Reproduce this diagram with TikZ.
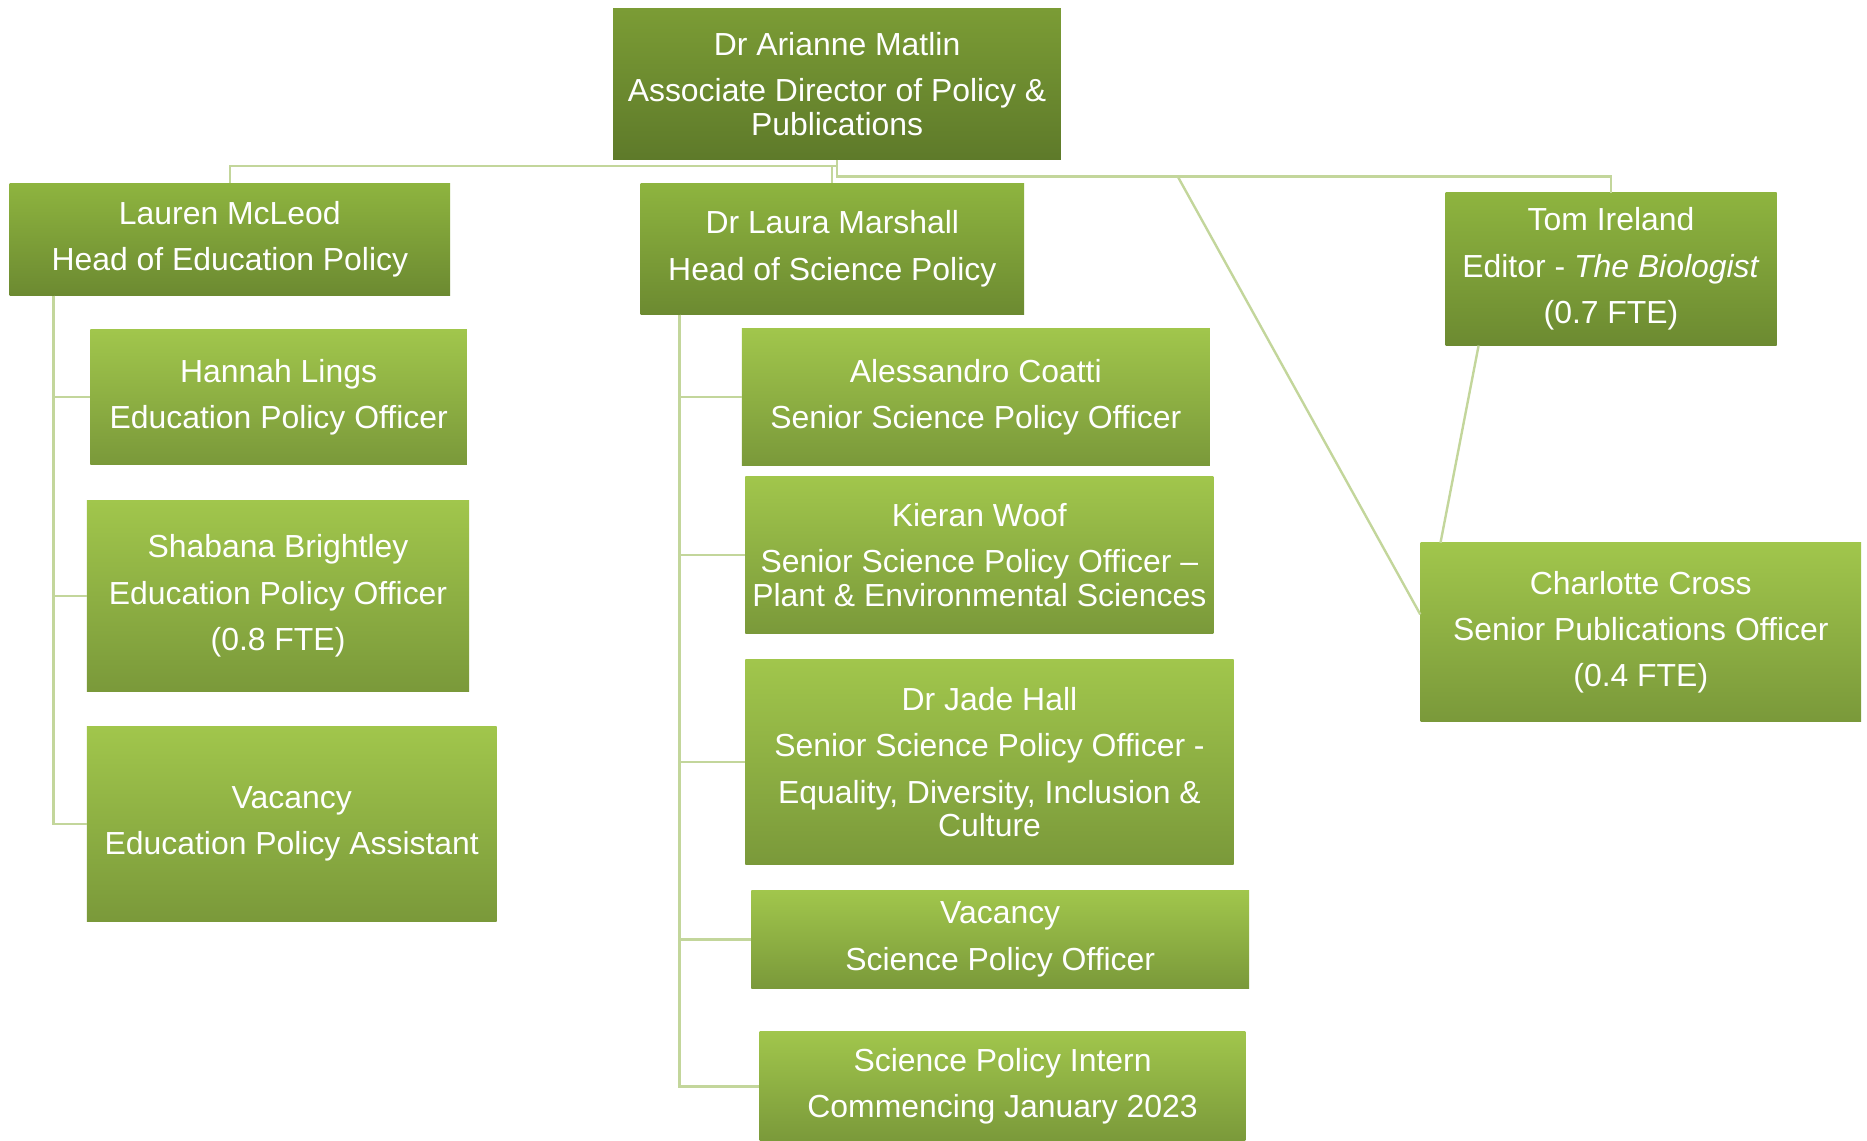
\documentclass[tikz,border=0pt]{standalone}
\usepackage{fontspec}
\setmainfont{Liberation Sans}
\usepackage{xcolor}
\usepackage{tikz}
\usetikzlibrary{positioning, calc}
\definecolor{directortop}{HTML}{7B9C35}
\definecolor{directorbot}{HTML}{5E7A2A}
\definecolor{leadtop}{HTML}{8EB43F}
\definecolor{leadbot}{HTML}{6C8A31}
\definecolor{stafftop}{HTML}{A1C64C}
\definecolor{staffbot}{HTML}{7A993A}
\definecolor{linkgreen}{HTML}{C3D69B}
\newcommand{\orgfont}{\fontsize{26.8}{28}\selectfont}
\tikzset{
  member/.style={rectangle, inner sep=0pt, text=white, align=center, font=\orgfont,
    execute at begin node={\rule{0pt}{29pt}}},
  directorbox/.style={member, top color=directortop, bottom color=directorbot},
  leadbox/.style={member, top color=leadtop, bottom color=leadbot},
  staffbox/.style={member, top color=stafftop, bottom color=staffbot},
  link/.style={draw=linkgreen, line width=2pt}
}

\begin{document}
\begin{tikzpicture}[x=1pt, y=-1pt]
  \fill[white] (0,0) rectangle (1568,958);
  \useasboundingbox (0,0) rectangle (1568,958);

  % Director
  \node[directorbox, minimum width=376pt, minimum height=127pt] (director) at (703,70.5)
    {Dr Arianne Matlin\\[11pt] Associate Director of Policy \&\\ Publications};

  % Heads
  \node[leadbox, minimum width=370pt, minimum height=94pt] (lauren) at (193,201)
    {Lauren McLeod\\[11pt] Head of Education Policy};
  \node[leadbox, minimum width=322pt, minimum height=110pt] (laura) at (699,209)
    {Dr Laura Marshall\\[11pt] Head of Science Policy};
  \node[leadbox, minimum width=278pt, minimum height=128pt] (tom) at (1353,226)
    {Tom Ireland\\[11pt] Editor - \textit{The Biologist}\\[11pt] (0.7 FTE)};

  % Education team
  \node[staffbox, minimum width=316pt, minimum height=113pt] (hannah) at (234,333.5)
    {Hannah Lings\\[11pt] Education Policy Officer};
  \node[staffbox, minimum width=321pt, minimum height=161pt] (shabana) at (233.5,500.5)
    {Shabana Brightley\\[11pt] Education Policy Officer\\[11pt] (0.8 FTE)};
  \node[staffbox, minimum width=344pt, minimum height=164pt] (edvacancy) at (245,692)
    {Vacancy\\[11pt] Education Policy Assistant};

  % Science team
  \node[staffbox, minimum width=393pt, minimum height=115pt] (alessandro) at (819.5,333.5)
    {Alessandro Coatti\\[11pt] Senior Science Policy Officer};
  \node[staffbox, minimum width=393pt, minimum height=132pt] (kieran) at (822.5,466)
    {Kieran Woof\\[11pt] Senior Science Policy Officer –\\ Plant \& Environmental Sciences};
  \node[staffbox, minimum width=410pt, minimum height=172pt] (jade) at (831,640)
    {Dr Jade Hall\\[11pt] Senior Science Policy Officer -\\[11pt] Equality, Diversity, Inclusion \&\\ Culture};
  \node[staffbox, minimum width=418pt, minimum height=82pt] (scivacancy) at (840,789)
    {Vacancy\\[11pt] Science Policy Officer};
  \node[staffbox, minimum width=408pt, minimum height=93pt] (intern) at (842,912.5)
    {Science Policy Intern\\[11pt] Commencing January 2023};

  % Publications
  \node[staffbox, minimum width=370pt, minimum height=150pt] (charlotte) at (1378,531)
    {Charlotte Cross\\[11pt] Senior Publications Officer\\[11pt] (0.4 FTE)};

  % Connectors from the director
  \coordinate (split) at (989,148);
  \draw[link] (director.south) -- ++(0,5) -| (lauren.north);
  \draw[link] (laura.north) -- ++(0,-15);
  \draw[link] (director.south) -- ++(0,14) -| (tom.north);
  \draw[link] (split) -- ([yshift=15pt]charlotte.west);
  \draw[link] ([xshift=28pt]tom.south west) -- ([xshift=17pt]charlotte.north west);

  % Education branches
  \foreach \who in {hannah, shabana, edvacancy}
    \draw[link] ([xshift=37pt]lauren.south west) |- (\who.west);

  % Science branches
  \foreach \who in {alessandro, kieran, jade, scivacancy, intern}
    \draw[link] ([xshift=33pt]laura.south west) |- (\who.west);
\end{tikzpicture}
\end{document}
